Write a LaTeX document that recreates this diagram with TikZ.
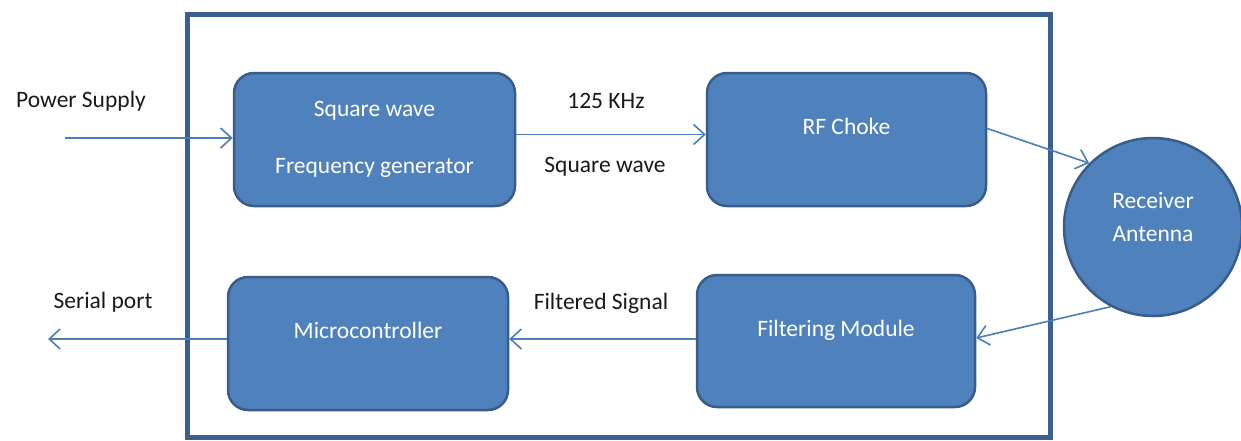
\documentclass[tikz,border=0pt]{standalone}
\usepackage{fontspec}
\setmainfont{Carlito}
\usetikzlibrary{arrows.meta}
\definecolor{fillblue}{RGB}{79,129,189}
\definecolor{edgeblue}{RGB}{56,93,138}
\definecolor{arrowblue}{RGB}{74,126,187}
\definecolor{frameblue}{RGB}{60,96,140}
\tikzset{
  block/.style={draw=edgeblue, line width=2.5pt, fill=fillblue, rounded corners=20pt,
    text=white, font=\fontsize{23.5}{57}\selectfont, align=center, inner sep=0pt},
  conn/.style={draw=arrowblue, line width=1.6pt, -{Straight Barb[length=11pt,width=20pt,line width=1.6pt]}},
  lbl/.style={font=\fontsize{23.5}{28}\selectfont, text=black!90, inner sep=0pt}
}
\begin{document}
\begin{tikzpicture}[x=1pt,y=-1pt]
\useasboundingbox (0,0) rectangle (1241,440);
\fill[white] (0,0) rectangle (1241,440);
% frame
\draw[frameblue, line width=5pt] (187,14) rectangle (1050,437);
% blocks
\node[block, minimum width=281pt, minimum height=133pt] (sq) at (374.5,139.5) {Square wave\\Frequency generator};
\node[block, minimum width=279pt, minimum height=133pt, text depth=26pt] (rf) at (846.5,139.5) {RF Choke};
\node[block, minimum width=280pt, minimum height=133pt, text depth=26pt] (mc) at (368,343.5) {Microcontroller};
\node[block, minimum width=278pt, minimum height=132pt, text depth=26pt] (fm) at (836,341) {Filtering Module};
\node[circle, draw=edgeblue, line width=2.5pt, fill=fillblue, minimum size=178pt, inner sep=0pt,
  text=white, font=\fontsize{23.5}{33}\selectfont, align=center, text depth=20pt] (ant) at (1153,227) {Receiver\\Antenna};
% free ends
\coordinate (ps) at (65,138);
\coordinate (sp) at (48,339);
% connectors
\draw[conn] (ps) -- (ps -| sq.west);
\draw[conn] ([yshift=5pt]sq.east) -- ([yshift=5pt]sq.east -| rf.west);
\draw[conn] ([yshift=11pt]rf.east) -- (ant.135);
\draw[conn] (ant.242) -- ([yshift=3pt]fm.east);
\draw[conn] ([yshift=2pt]fm.west) -- ([yshift=2pt]fm.west -| mc.east);
\draw[conn] ([yshift=4.5pt]mc.west) -- (sp);
% labels
\node[lbl] (lps) at (81,101) {Power Supply};
\node[lbl] (l125) at (606,101) {125 KHz};
\node[lbl] (lsw) at (605,167) {Square wave};
\node[lbl] (lfs) at (601,303) {Filtered Signal};
\node[lbl] (lsp) at (103,302) {Serial port};
\end{tikzpicture}
\end{document}
